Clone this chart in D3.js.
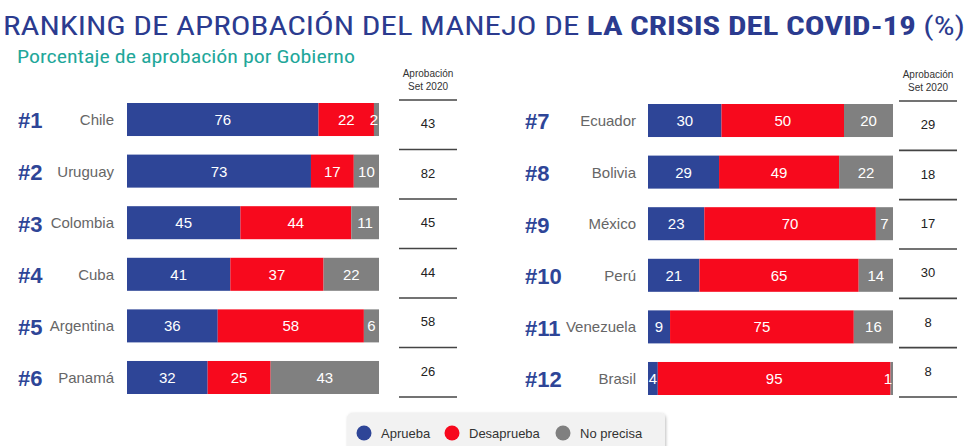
<html>
<head>
<meta charset="utf-8">
<script src="https://cdn.jsdelivr.net/npm/d3@7"></script>
<style>
body { margin: 0; background: #fff; }
</style>
</head>
<body>
<div id="chart"></div>
<script>
// data
var leftCountries = ["Chile", "Uruguay", "Colombia", "Cuba", "Argentina", "Panamá"];
var leftAprueba = [76, 73, 45, 41, 36, 32];
var leftDesaprueba = [22, 17, 44, 37, 58, 25];
var leftNoPrecisa = [2, 10, 11, 22, 6, 43];
var leftSet2020 = [43, 82, 45, 44, 58, 26];

var rightCountries = ["Ecuador", "Bolivia", "México", "Perú", "Venezuela", "Brasil"];
var rightAprueba = [30, 29, 23, 21, 9, 4];
var rightDesaprueba = [50, 49, 70, 65, 75, 95];
var rightNoPrecisa = [20, 22, 7, 14, 16, 1];
var rightSet2020 = [29, 18, 17, 30, 8, 8];

var seriesNames = ["Aprueba", "Desaprueba", "No precisa"];
var colors = ["#2e4597", "#f7091d", "#808080"];

var SANS = "'Liberation Sans', Arial, sans-serif";
var NARROW = "'Roboto Condensed', 'Liberation Sans', sans-serif";

var W = 971, H = 446;
var svg = d3.select("#chart").append("svg")
    .attr("width", W)
    .attr("height", H)
    .attr("font-family", SANS);

// title
var title = svg.append("text")
    .attr("font-family", NARROW)
    .attr("x", 3).attr("y", 35)
    .attr("fill", "#2b3b8f")
    .attr("font-size", 26)
    .attr("textLength", 962)
    .attr("lengthAdjust", "spacingAndGlyphs");
title.append("tspan").text("RANKING DE APROBACIÓN DEL MANEJO DE ");
title.append("tspan").attr("font-weight", "bold").text("LA CRISIS DEL COVID-19");
title.append("tspan").text(" (%)");

svg.append("text")
    .attr("font-family", NARROW)
    .attr("x", 17).attr("y", 63)
    .attr("fill", "#1fa79a")
    .attr("font-size", 18)
    .attr("textLength", 338)
    .attr("lengthAdjust", "spacingAndGlyphs")
    .text("Porcentaje de aprobación por Gobierno");

function panel(opt) {
  var rows = opt.countries.map(function(c, i) {
    return { country: c, rank: opt.rank0 + i, vals: [opt.a[i], opt.d[i], opt.n[i]], set: opt.set[i] };
  });

  var x = d3.scaleLinear().domain([0, 100]).range([opt.x0, opt.x1]);
  var y = d3.scaleBand().domain(opt.countries)
      .range([opt.y0, opt.y0 + 291]).paddingInner(0.36).paddingOuter(0);

  var g = svg.append("g");

  var row = g.selectAll(".row").data(rows).enter().append("g");

  row.append("text")
    .attr("x", opt.rankX)
    .attr("y", function(d) { return y(d.country) + y.bandwidth() / 2 + 1; })
    .attr("dy", "0.36em")
    .attr("fill", "#2e4597")
    .attr("font-size", 22)
    .attr("font-weight", "bold")
    .text(function(d) { return "#" + d.rank; });

  row.append("text")
    .attr("x", opt.nameX)
    .attr("y", function(d) { return y(d.country) + y.bandwidth() / 2; })
    .attr("dy", "0.36em")
    .attr("text-anchor", "end")
    .attr("fill", "#666")
    .attr("font-size", 15)
    .text(function(d) { return d.country; });

  row.each(function(d) {
    var cum = 0;
    var segs = d.vals.map(function(v, k) {
      var s = { v: v, k: k, start: cum, end: cum + v };
      cum += v;
      return s;
    });
    var r = d3.select(this);
    r.selectAll("rect").data(segs).enter().append("rect")
      .attr("x", function(s) { return x(s.start); })
      .attr("width", function(s) { return x(s.end) - x(s.start); })
      .attr("y", y(d.country))
      .attr("height", y.bandwidth())
      .attr("fill", function(s) { return colors[s.k]; });
    r.selectAll(".lbl").data(segs).enter().append("text")
      .attr("class", "lbl")
      .attr("x", function(s) { return s.v < 4 ? x(s.end) - 1 : (x(s.start) + x(s.end)) / 2; })
      .attr("text-anchor", function(s) { return s.v < 4 ? "end" : "middle"; })
      .attr("y", y(d.country) + y.bandwidth() / 2)
      .attr("dy", "0.36em")
      .attr("fill", "#fff")
      .attr("font-size", 15)
      .text(function(s) { return s.v; });
  });

  // approval Set 2020 column
  var ty = d3.scaleBand().domain(opt.countries).range([opt.ty0, opt.ty1]);
  var head = g.append("text")
    .attr("text-anchor", "middle")
    .attr("fill", "#333")
    .attr("font-size", 10);
  head.append("tspan").attr("x", opt.tx).attr("y", opt.ty0 - 23).text("Aprobación");
  head.append("tspan").attr("x", opt.tx).attr("y", opt.ty0 - 10).text("Set 2020");

  g.selectAll(".hl").data([opt.ty0].concat(opt.countries.map(function(c) { return ty(c) + ty.bandwidth(); })))
    .enter().append("line")
    .attr("x1", opt.tx - 29).attr("x2", opt.tx + 29)
    .attr("y1", function(v) { return v; }).attr("y2", function(v) { return v; })
    .attr("stroke", "#444")
    .attr("stroke-width", 1.6);

  g.selectAll(".sv").data(rows).enter().append("text")
    .attr("x", opt.tx)
    .attr("y", function(d) { return ty(d.country) + ty.bandwidth() / 2 - 1; })
    .attr("dy", "0.36em")
    .attr("text-anchor", "middle")
    .attr("fill", "#222")
    .attr("font-size", 13)
    .text(function(d) { return d.set; });
}

panel({ countries: leftCountries, a: leftAprueba, d: leftDesaprueba, n: leftNoPrecisa, set: leftSet2020,
        rank0: 1, rankX: 18, nameX: 114, x0: 127, x1: 379, y0: 103, tx: 428, ty0: 100, ty1: 397 });
panel({ countries: rightCountries, a: rightAprueba, d: rightDesaprueba, n: rightNoPrecisa, set: rightSet2020,
        rank0: 7, rankX: 525, nameX: 636, x0: 648, x1: 893, y0: 104, tx: 928, ty0: 101, ty1: 397 });

// legend
var defs = svg.append("defs");
var f = defs.append("filter").attr("id", "sh").attr("x", "-10%").attr("y", "-30%").attr("width", "120%").attr("height", "160%");
f.append("feDropShadow").attr("dx", 1).attr("dy", 1).attr("stdDeviation", 1.5).attr("flood-color", "#000").attr("flood-opacity", 0.25);

var lg = svg.append("g");
lg.append("rect")
  .attr("x", 347).attr("y", 413).attr("width", 318).attr("height", 40)
  .attr("rx", 5)
  .attr("fill", "#f2f2f2")
  .attr("filter", "url(#sh)");
var legX = [364, 452, 563];
var item = lg.selectAll(".it").data(seriesNames).enter().append("g");
item.append("circle")
  .attr("cx", function(d, i) { return legX[i]; })
  .attr("cy", 433)
  .attr("r", 7.5)
  .attr("fill", function(d, i) { return colors[i]; });
item.append("text")
  .attr("x", function(d, i) { return legX[i] + 17; })
  .attr("y", 433)
  .attr("dy", "0.36em")
  .attr("fill", "#333")
  .attr("font-size", 13)
  .text(function(d) { return d; });
</script>
</body>
</html>
